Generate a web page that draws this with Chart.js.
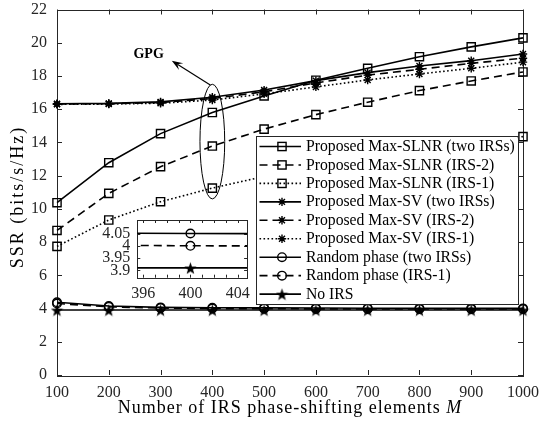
<!DOCTYPE html>
<html>
<head>
<meta charset="utf-8">
<script src="https://cdn.jsdelivr.net/npm/chart.js@4.4.1/dist/chart.umd.min.js"></script>
<style>
  html, body { margin: 0; padding: 0; background: #fff; }
  #wrap { position: relative; width: 545px; height: 426px; }
  #main { position: absolute; left: 0; top: 0; }
  #inset { position: absolute; left: 95px; top: 212px; }
</style>
</head>
<body>
<div id="wrap">
  <canvas id="main" width="545" height="426"></canvas>
  <canvas id="inset" width="160" height="95"></canvas>
</div>
<script>
// Number of IRS phase-shifting elements
const elementsM = [100, 200, 300, 400, 500, 600, 700, 800, 900, 1000];

// Secrecy rate (bits/s/Hz) per scheme
const slnrTwoIRS  = [10.37, 12.78, 14.53, 15.80, 16.80, 17.74, 18.46, 19.16, 19.75, 20.29];
const slnrIRS2    = [8.70, 10.93, 12.54, 13.78, 14.80, 15.67, 16.42, 17.12, 17.70, 18.24];
const slnrIRS1    = [7.74, 9.33, 10.43, 11.25, 11.95, 12.55, 13.05, 13.50, 13.93, 14.35];
const svTwoIRS    = [16.33, 16.35, 16.44, 16.72, 17.15, 17.72, 18.20, 18.60, 18.92, 19.32];
const svIRS2      = [16.31, 16.33, 16.40, 16.64, 17.05, 17.58, 18.05, 18.40, 18.76, 19.07];
const svIRS1      = [16.29, 16.31, 16.36, 16.55, 16.92, 17.34, 17.76, 18.12, 18.46, 18.83];
const randTwoIRS  = [4.38, 4.15, 4.07, 4.05, 4.04, 4.03, 4.02, 4.02, 4.01, 4.01];
const randIRS1    = [4.30, 4.10, 4.03, 4.00, 3.99, 3.98, 3.98, 3.97, 3.97, 3.97];
const noIRS       = [3.91, 3.91, 3.91, 3.91, 3.91, 3.91, 3.91, 3.91, 3.91, 3.91];

const seriesLabels = [
  'Proposed Max-SLNR (two IRSs)',
  'Proposed Max-SLNR (IRS-2)',
  'Proposed Max-SLNR (IRS-1)',
  'Proposed Max-SV (two IRSs)',
  'Proposed Max-SV (IRS-2)',
  'Proposed Max-SV (IRS-1)',
  'Random phase (two IRSs)',
  'Random phase (IRS-1)',
  'No IRS'
];

// Axis ticks
const mainYTicks = [0, 2, 4, 6, 8, 10, 12, 14, 16, 18, 20, 22];
const insetXTicks = [396, 397, 398, 399, 400, 401, 402, 403, 404];
const insetXLabels = [396, 400, 404];
const insetYTicks = [3.9, 3.95, 4, 4.05];

// Annotation around the M = 400 points (data units)
const gpgEllipse = { m: 400, center: 14.05, halfHeight: 3.45, halfWidthM: 23.9 };
const gpgArrow = { fromM: 396, fromY: 17.46, toM: 321.7, toY: 18.92 };
const gpgText = { m: 277, y: 19.27, text: 'GPG' };

const INK = '#000000';
const AXIS = '#262626';
const SERIF = "'Liberation Serif', 'Times New Roman', serif";

// filled five-pointed star used as a marker
function makePentagram(size) {
  const c = document.createElement('canvas');
  c.width = size; c.height = size;
  const g = c.getContext('2d');
  const cx = size / 2, cy = size / 2 + size * 0.06;
  const R = size / 2, r = R * 0.40;
  g.beginPath();
  for (let i = 0; i < 10; i++) {
    const ang = -Math.PI / 2 + i * Math.PI / 5;
    const rad = i % 2 ? r : R;
    g.lineTo(cx + rad * Math.cos(ang), cy + rad * Math.sin(ang));
  }
  g.closePath();
  g.fillStyle = INK;
  g.fill();
  return c;
}
const pentagram = makePentagram(13);

const DASH = [8, 5];
const DOT = [1.6, 2.4];

const styles = [
  { dash: [], point: 'rect', r: 5.8 },
  { dash: DASH, point: 'rect', r: 5.8 },
  { dash: DOT, point: 'rect', r: 5.8 },
  { dash: [], point: 'star', r: 4.2 },
  { dash: DASH, point: 'star', r: 4.2 },
  { dash: DOT, point: 'star', r: 4.2 },
  { dash: [], point: 'circle', r: 4.3 },
  { dash: DASH, point: 'circle', r: 4.3 },
  { dash: [], point: pentagram, r: 6.5 }
];
const seriesValues = [slnrTwoIRS, slnrIRS2, slnrIRS1, svTwoIRS, svIRS2, svIRS1, randTwoIRS, randIRS1, noIRS];

function makeDataset(i, clip) {
  const s = styles[i];
  return {
    label: seriesLabels[i],
    data: elementsM.map((m, k) => ({ x: m, y: seriesValues[i][k] })),
    borderColor: INK,
    backgroundColor: 'rgba(0,0,0,0)',
    borderWidth: 1.6,
    borderDash: s.dash,
    pointStyle: s.point,
    pointRadius: s.r,
    pointBorderWidth: 1.4,
    pointBorderColor: INK,
    pointBackgroundColor: 'rgba(0,0,0,0)',
    tension: 0,
    clip: clip
  };
}

function drawMarker(ctx, style, x, y, r) {
  ctx.save();
  ctx.setLineDash([]);
  ctx.strokeStyle = INK;
  ctx.lineWidth = 1.4;
  if (typeof style === 'object') {
    ctx.drawImage(style, x - style.width / 2, y - style.height / 2);
  } else if (style === 'rect') {
    const h = r * Math.SQRT1_2;
    ctx.strokeRect(x - h, y - h, 2 * h, 2 * h);
  } else if (style === 'circle') {
    ctx.beginPath(); ctx.arc(x, y, r, 0, Math.PI * 2); ctx.stroke();
  } else if (style === 'star') {
    const d = r * Math.SQRT1_2;
    ctx.beginPath();
    ctx.moveTo(x - r, y); ctx.lineTo(x + r, y);
    ctx.moveTo(x, y - r); ctx.lineTo(x, y + r);
    ctx.moveTo(x - d, y - d); ctx.lineTo(x + d, y + d);
    ctx.moveTo(x - d, y + d); ctx.lineTo(x + d, y - d);
    ctx.stroke();
  }
  ctx.restore();
}

// box and inward tick marks on all four sides
const frameTicks = {
  id: 'frameTicks',
  beforeDraw(chart, args, opts) {
    if (!opts.fill) return;
    const a = chart.chartArea;
    chart.ctx.save();
    chart.ctx.fillStyle = '#fff';
    chart.ctx.fillRect(a.left, a.top, a.right - a.left, a.bottom - a.top);
    chart.ctx.restore();
  },
  beforeDatasetsDraw(chart, args, opts) {
    const { ctx, chartArea: a, scales: { x, y } } = chart;
    const L = opts.len || 5;
    ctx.save();
    ctx.strokeStyle = AXIS;
    ctx.lineWidth = 1;
    ctx.beginPath();
    for (const t of x.ticks) {
      const px = Math.round(x.getPixelForValue(t.value)) + 0.5;
      ctx.moveTo(px, a.bottom); ctx.lineTo(px, a.bottom - L);
      ctx.moveTo(px, a.top); ctx.lineTo(px, a.top + L);
    }
    for (const t of y.ticks) {
      const py = Math.round(y.getPixelForValue(t.value)) + 0.5;
      ctx.moveTo(a.left, py); ctx.lineTo(a.left + L, py);
      ctx.moveTo(a.right, py); ctx.lineTo(a.right - L, py);
    }
    ctx.stroke();
    ctx.strokeRect(Math.round(a.left) + 0.5, Math.round(a.top) + 0.5,
                   Math.round(a.right - a.left), Math.round(a.bottom - a.top));
    ctx.restore();
  }
};

// axis titles, GPG note and legend on the main axes
const mainDecor = {
  id: 'mainDecor',
  afterDatasetsDraw(chart) {
    const { ctx, chartArea: a, scales: { x, y } } = chart;
    ctx.save();

    // ellipse around the M = 400 points
    const ex = x.getPixelForValue(gpgEllipse.m);
    const ey = y.getPixelForValue(gpgEllipse.center);
    const ery = Math.abs(y.getPixelForValue(gpgEllipse.center + gpgEllipse.halfHeight) - ey);
    const erx = Math.abs(x.getPixelForValue(gpgEllipse.m + gpgEllipse.halfWidthM) - ex);
    ctx.strokeStyle = INK;
    ctx.lineWidth = 1;
    ctx.beginPath();
    ctx.ellipse(ex, ey, erx, ery, 0, 0, Math.PI * 2);
    ctx.stroke();

    // arrow to the label
    const ax0 = x.getPixelForValue(gpgArrow.fromM), ay0 = y.getPixelForValue(gpgArrow.fromY);
    const ax1 = x.getPixelForValue(gpgArrow.toM), ay1 = y.getPixelForValue(gpgArrow.toY);
    const ang = Math.atan2(ay1 - ay0, ax1 - ax0);
    const hl = 11, hw = 4;
    ctx.lineWidth = 1.2;
    ctx.beginPath();
    ctx.moveTo(ax0, ay0);
    ctx.lineTo(ax1 - Math.cos(ang) * hl * 0.6, ay1 - Math.sin(ang) * hl * 0.6);
    ctx.stroke();
    ctx.beginPath();
    ctx.moveTo(ax1, ay1);
    ctx.lineTo(ax1 - Math.cos(ang) * hl - Math.sin(ang) * hw, ay1 - Math.sin(ang) * hl + Math.cos(ang) * hw);
    ctx.lineTo(ax1 - Math.cos(ang) * hl * 0.6, ay1 - Math.sin(ang) * hl * 0.6);
    ctx.lineTo(ax1 - Math.cos(ang) * hl + Math.sin(ang) * hw, ay1 - Math.sin(ang) * hl - Math.cos(ang) * hw);
    ctx.closePath();
    ctx.fillStyle = INK;
    ctx.fill();

    ctx.font = 'bold 14px ' + SERIF;
    ctx.textAlign = 'center';
    ctx.textBaseline = 'middle';
    ctx.fillText(gpgText.text, x.getPixelForValue(gpgText.m), y.getPixelForValue(gpgText.y));

    // legend
    const lx = a.right - 267.5, ly = a.top + 126.5, lw = 262, lh = 168;
    ctx.fillStyle = '#fff';
    ctx.fillRect(lx, ly, lw, lh);
    ctx.strokeStyle = AXIS;
    ctx.lineWidth = 1;
    ctx.strokeRect(Math.round(lx) + 0.5, Math.round(ly) + 0.5, lw, lh);
    const rowH = 18.45;
    chart.data.datasets.forEach((ds, i) => {
      const ry = ly + 10.5 + i * rowH;
      ctx.save();
      ctx.strokeStyle = INK;
      ctx.lineWidth = ds.borderWidth;
      ctx.setLineDash(ds.borderDash);
      ctx.beginPath();
      ctx.moveTo(lx + 4, ry);
      ctx.lineTo(lx + 45.5, ry);
      ctx.stroke();
      ctx.restore();
      drawMarker(ctx, ds.pointStyle, lx + 26.5, ry, ds.pointRadius);
      ctx.fillStyle = INK;
      ctx.font = '15.7px ' + SERIF;
      ctx.textAlign = 'left';
      ctx.textBaseline = 'middle';
      ctx.fillText(ds.label, lx + 50.5, ry + 0.5);
    });
    ctx.restore();
  },
  afterDraw(chart) {
    const { ctx, chartArea: a } = chart;
    ctx.save();
    ctx.fillStyle = INK;
    ctx.textBaseline = 'middle';
    ctx.textAlign = 'left';
    // x title with italic M
    ctx.letterSpacing = '1px';
    ctx.font = '18px ' + SERIF;
    const part1 = 'Number of IRS phase-shifting elements ';
    const w1 = ctx.measureText(part1).width;
    ctx.font = 'italic 18px ' + SERIF;
    const w2 = ctx.measureText('M').width;
    const cx = (a.left + a.right) / 2;
    const start = cx - (w1 + w2) / 2;
    ctx.font = '18px ' + SERIF;
    ctx.fillText(part1, start, 408.5);
    ctx.font = 'italic 18px ' + SERIF;
    ctx.fillText('M', start + w1, 408.5);
    // y title
    ctx.translate(18.5, 197);
    ctx.rotate(-Math.PI / 2);
    ctx.letterSpacing = '2px';
    ctx.font = '18px ' + SERIF;
    ctx.textAlign = 'center';
    ctx.fillText('SSR (bits/s/Hz)', 0, 0);
    ctx.restore();
  }
};

const tickFont = { family: SERIF, size: 16 };

// keep the plot box where the layout padding puts it
function noEdgePadX(s) { s.paddingLeft = 0; s.paddingRight = 0; }
function noEdgePadY(s) { s.paddingTop = 0; s.paddingBottom = 0; }

new Chart(document.getElementById('main'), {
  type: 'line',
  data: { datasets: seriesLabels.map((_, i) => makeDataset(i, false)) },
  options: {
    responsive: false,
    animation: false,
    events: [],
    layout: { padding: { top: 9.5, right: 22, left: 0, bottom: 0 } },
    plugins: { legend: { display: false }, tooltip: { enabled: false }, frameTicks: { len: 5 } },
    scales: {
      x: {
        type: 'linear', min: 100, max: 1000,
        ticks: {
          stepSize: 100, autoSkip: false, maxRotation: 0, font: tickFont, color: AXIS, padding: 8,
          callback: v => String(v)
        },
        grid: { display: false, drawTicks: false },
        border: { display: false },
        afterFit(s) { s.height = 51; noEdgePadX(s); }
      },
      y: {
        min: 0, max: 22,
        afterBuildTicks(s) { s.ticks = mainYTicks.map(v => ({ value: v })); },
        ticks: { autoSkip: false, font: tickFont, color: AXIS, padding: 10, callback: v => String(v) },
        grid: { display: false, drawTicks: false },
        border: { display: false },
        afterFit(s) { s.width = 57; noEdgePadY(s); }
      }
    }
  },
  plugins: [frameTicks, mainDecor]
});

// zoomed view around M = 400 for the low curves
new Chart(document.getElementById('inset'), {
  type: 'line',
  data: { datasets: [6, 7, 8].map(i => makeDataset(i, 0)) },
  options: {
    responsive: false,
    animation: false,
    events: [],
    layout: { padding: { top: 8, right: 6.7, left: 0, bottom: 0 } },
    plugins: { legend: { display: false }, tooltip: { enabled: false }, frameTicks: { len: 3, fill: true } },
    scales: {
      x: {
        type: 'linear', min: 395.5, max: 404.8,
        afterBuildTicks(s) { s.ticks = insetXTicks.map(v => ({ value: v })); },
        ticks: {
          autoSkip: false, maxRotation: 0, font: tickFont, color: AXIS, padding: 6,
          callback: v => insetXLabels.includes(v) ? String(v) : ''
        },
        grid: { display: false, drawTicks: false },
        border: { display: false },
        afterFit(s) { s.height = 29.3; noEdgePadX(s); }
      },
      y: {
        min: 3.87, max: 4.105,
        afterBuildTicks(s) { s.ticks = insetYTicks.map(v => ({ value: v })); },
        ticks: {
          autoSkip: false, font: tickFont, color: AXIS, padding: 7,
          callback: v => String(+v.toFixed(2))
        },
        grid: { display: false, drawTicks: false },
        border: { display: false },
        afterFit(s) { s.width = 42.3; noEdgePadY(s); }
      }
    }
  },
  plugins: [frameTicks]
});
</script>
</body>
</html>
